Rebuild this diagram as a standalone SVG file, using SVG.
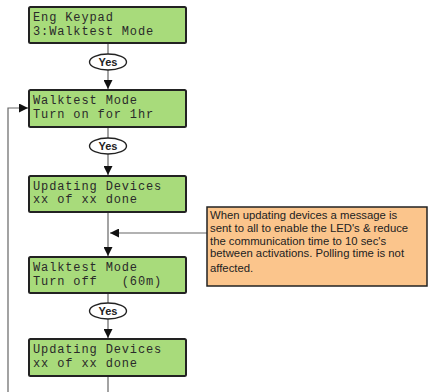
<svg xmlns="http://www.w3.org/2000/svg" width="428" height="392" viewBox="0 0 428 392">
<defs>
<style>
.lcd{fill:#a8db7b;stroke:#222;stroke-width:2}
.lt{font-family:"Liberation Mono","DejaVu Sans Mono",monospace;font-size:12px;letter-spacing:0.87px;fill:#2a2a2a;white-space:pre}
.yes{fill:#fff;stroke:#222;stroke-width:1.4}
.yt{font-family:"Liberation Sans",Arial,sans-serif;font-size:11px;font-weight:bold;fill:#222;text-anchor:middle}
.ln{stroke:#666;stroke-width:1.2;fill:none}
.nt{font-family:"Liberation Sans",Arial,sans-serif;font-size:11.3px;fill:#222}
</style>
<marker id="ah" viewBox="0 0 10 10" refX="10" refY="5" markerWidth="9" markerHeight="9" markerUnits="userSpaceOnUse" orient="auto">
<path d="M0,0 L10,5 L0,10 z" fill="#111"/>
</marker>
</defs>
<g id="connectors">
<line class="ln" x1="108" y1="43" x2="108" y2="54"/>
<line class="ln" x1="108" y1="70" x2="108" y2="89" marker-end="url(#ah)"/>
<line class="ln" x1="108" y1="127" x2="108" y2="138"/>
<line class="ln" x1="108" y1="154" x2="108" y2="175" marker-end="url(#ah)"/>
<line class="ln" x1="108" y1="212" x2="108" y2="256" marker-end="url(#ah)"/>
<line class="ln" x1="207" y1="233" x2="110" y2="233" marker-end="url(#ah)"/>
<line class="ln" x1="108" y1="293" x2="108" y2="303"/>
<line class="ln" x1="108" y1="319" x2="108" y2="338" marker-end="url(#ah)"/>
<line class="ln" x1="108" y1="376" x2="108" y2="392"/>
<polyline class="ln" points="8,392 8,108 28,108" marker-end="url(#ah)"/>
</g>
<g id="n1">
<rect class="lcd" x="29" y="7" width="157" height="36" rx="1.5"/>
<text class="lt" x="33" y="21">Eng Keypad</text>
<text class="lt" x="33" y="35">3:Walktest Mode</text>
</g>
<g id="yes1">
<ellipse class="yes" cx="108" cy="62" rx="18.5" ry="8"/>
<text class="yt" x="108" y="66">Yes</text>
</g>
<g id="n2">
<rect class="lcd" x="29" y="90" width="157" height="37" rx="1.5"/>
<text class="lt" x="33" y="104">Walktest Mode</text>
<text class="lt" x="33" y="117.5">Turn on for 1hr</text>
</g>
<g id="yes2">
<ellipse class="yes" cx="108" cy="146" rx="18.5" ry="8"/>
<text class="yt" x="108" y="150">Yes</text>
</g>
<g id="n3">
<rect class="lcd" x="29" y="176" width="157" height="36" rx="1.5"/>
<text class="lt" x="33" y="190">Updating Devices</text>
<text class="lt" x="33" y="202.5">xx of xx done</text>
</g>
<g id="note">
<rect x="207" y="207" width="220" height="79" fill="#fbc58c" stroke="#222" stroke-width="1.5"/>
<text class="nt" x="210" y="219">When updating devices a message is</text>
<text class="nt" x="210" y="232">sent to all to enable the LED's &amp; reduce</text>
<text class="nt" x="210" y="244.5">the communication time to 10 sec's</text>
<text class="nt" x="210" y="257">between activations. Polling time is not</text>
<text class="nt" x="210" y="272">affected.</text>
</g>
<g id="n4">
<rect class="lcd" x="29" y="257" width="157" height="36" rx="1.5"/>
<text class="lt" x="33" y="271">Walktest Mode</text>
<text class="lt" x="33" y="284.5">Turn off   (60m)</text>
</g>
<g id="yes3">
<ellipse class="yes" cx="108" cy="311" rx="18.5" ry="8"/>
<text class="yt" x="108" y="315">Yes</text>
</g>
<g id="n5">
<rect class="lcd" x="29" y="339" width="157" height="37" rx="1.5"/>
<text class="lt" x="33" y="353">Updating Devices</text>
<text class="lt" x="33" y="366.5">xx of xx done</text>
</g>
</svg>
